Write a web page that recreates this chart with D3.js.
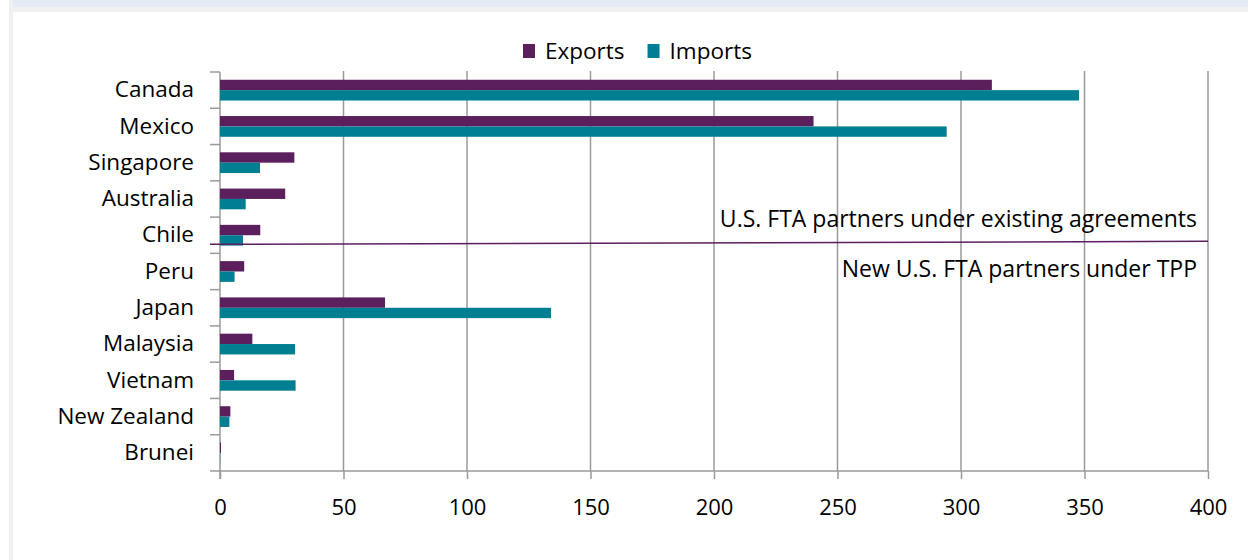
<!DOCTYPE html>
<html>
<head>
<meta charset="utf-8">
<script src="https://cdn.jsdelivr.net/npm/d3@7"></script>
<style>
    body { margin: 0; background: #fff; }
    text { font-family: "Open Sans", sans-serif; fill: #000; }
</style>
</head>
<body>
<div id="chart"></div>
<script>
// data (US billion $)
var countries = ["Canada", "Mexico", "Singapore", "Australia", "Chile", "Peru",
    "Japan", "Malaysia", "Vietnam", "New Zealand", "Brunei"];
var exportsVals = [312.5, 240.3, 30.1, 26.4, 16.3, 9.8, 66.8, 13.1, 5.7, 4.2, 0.4];
var importsVals = [347.8, 294.2, 16.2, 10.4, 9.3, 5.9, 134.0, 30.4, 30.6, 3.8, 0.1];
var xTicks = [0, 50, 100, 150, 200, 250, 300, 350, 400];
var seriesNames = ["Exports", "Imports"];
var seriesColors = ["#5c1f5e", "#007e92"];
var noteAbove = "U.S. FTA partners under existing agreements";
var noteBelow = "New U.S. FTA partners under TPP";

var W = 1248, H = 560;
var margin = {top: 72, right: 40, bottom: 89, left: 220};
var width = W - margin.left - margin.right,
    height = H - margin.top - margin.bottom;

var svg = d3.select("#chart")
    .append("svg")
    .attr("width", W)
    .attr("height", H);

// page frame bits
svg.append("rect").attr("x", 13).attr("y", 0).attr("width", W - 13).attr("height", 7).attr("fill", "#e4ebf6");
svg.append("rect").attr("x", 9).attr("y", 7).attr("width", W - 9).attr("height", 5).attr("fill", "#f0f0f0");
svg.append("rect").attr("x", 9).attr("y", 0).attr("width", 4).attr("height", H).attr("fill", "#f0f0f0");

var g = svg.append("g")
    .attr("transform", "translate(" + margin.left + "," + margin.top + ")");

var x = d3.scaleLinear()
    .domain([0, 400])
    .range([0, width]);

var y = d3.scaleBand()
    .domain(countries)
    .range([0, height]);

var barH = y.bandwidth() * 0.286;
var pad = (y.bandwidth() - 2 * barH) / 2;

// vertical gridlines
g.append("g")
    .selectAll("line")
    .data(xTicks.slice(1))
    .enter()
    .append("line")
    .attr("x1", function(d){ return x(d); })
    .attr("x2", function(d){ return x(d); })
    .attr("y1", -1)
    .attr("y2", height)
    .attr("stroke", "#9a9a9a")
    .attr("stroke-width", 1.5);

// bottom axis
var xAxis = g.append("g")
    .attr("transform", "translate(0," + height + ")")
    .call(d3.axisBottom(x).tickValues(xTicks).tickSize(8).tickPadding(20));
xAxis.select(".domain").attr("stroke", "#9a9a9a").attr("stroke-width", 1.5)
    .attr("d", "M-10,0H" + width);
xAxis.selectAll(".tick line").attr("stroke", "#9a9a9a").attr("stroke-width", 1.5);
xAxis.selectAll(".tick text").style("font-size", "22px").style("font-family", "Open Sans");

// left axis
var yAxis = g.append("g")
    .call(d3.axisLeft(y).tickSize(0).tickPadding(26));
yAxis.select(".domain").attr("stroke", "#9a9a9a").attr("stroke-width", 1.5)
    .attr("d", "M0,0V" + (height + 8));
yAxis.selectAll(".tick text").style("font-size", "22.5px").style("font-family", "Open Sans");

// category separator ticks
g.append("g")
    .selectAll("line")
    .data(countries)
    .enter()
    .append("line")
    .attr("x1", -10)
    .attr("x2", 0)
    .attr("y1", function(d){ return y(d); })
    .attr("y2", function(d){ return y(d); })
    .attr("stroke", "#9a9a9a")
    .attr("stroke-width", 1.5);

// bars
var series = [exportsVals, importsVals];
series.forEach(function(vals, i) {
    g.append("g")
        .selectAll("rect")
        .data(vals)
        .enter()
        .append("rect")
        .attr("x", 0)
        .attr("y", function(d, j){ return y(countries[j]) + pad + i * barH; })
        .attr("width", function(d){ return x(d); })
        .attr("height", barH)
        .attr("fill", seriesColors[i]);
});

// divider between existing partners and TPP partners
var divY = y("Peru") - 9;
g.append("line")
    .attr("x1", -10)
    .attr("x2", width)
    .attr("y1", divY)
    .attr("y2", divY - 3)
    .attr("stroke", "#5c1f5e")
    .attr("stroke-width", 1.5);

g.append("text")
    .attr("x", x(400) - 11)
    .attr("y", divY - 17)
    .attr("text-anchor", "end")
    .style("font-size", "23px")
    .text(noteAbove);

g.append("text")
    .attr("x", x(400) - 11)
    .attr("y", divY + 33)
    .attr("text-anchor", "end")
    .style("font-size", "23px")
    .text(noteBelow);

// legend
var legend = svg.append("g").attr("transform", "translate(523,44)");
var lx = 0;
seriesNames.forEach(function(name, i) {
    var item = legend.append("g").attr("transform", "translate(" + lx + ",0)");
    item.append("rect")
        .attr("width", 12)
        .attr("height", 14)
        .attr("fill", seriesColors[i]);
    var t = item.append("text")
        .attr("x", 22)
        .attr("y", 15)
        .style("font-size", "22.5px")
        .text(name);
    lx += 22 + t.node().getComputedTextLength() + 23;
});
</script>
</body>
</html>
